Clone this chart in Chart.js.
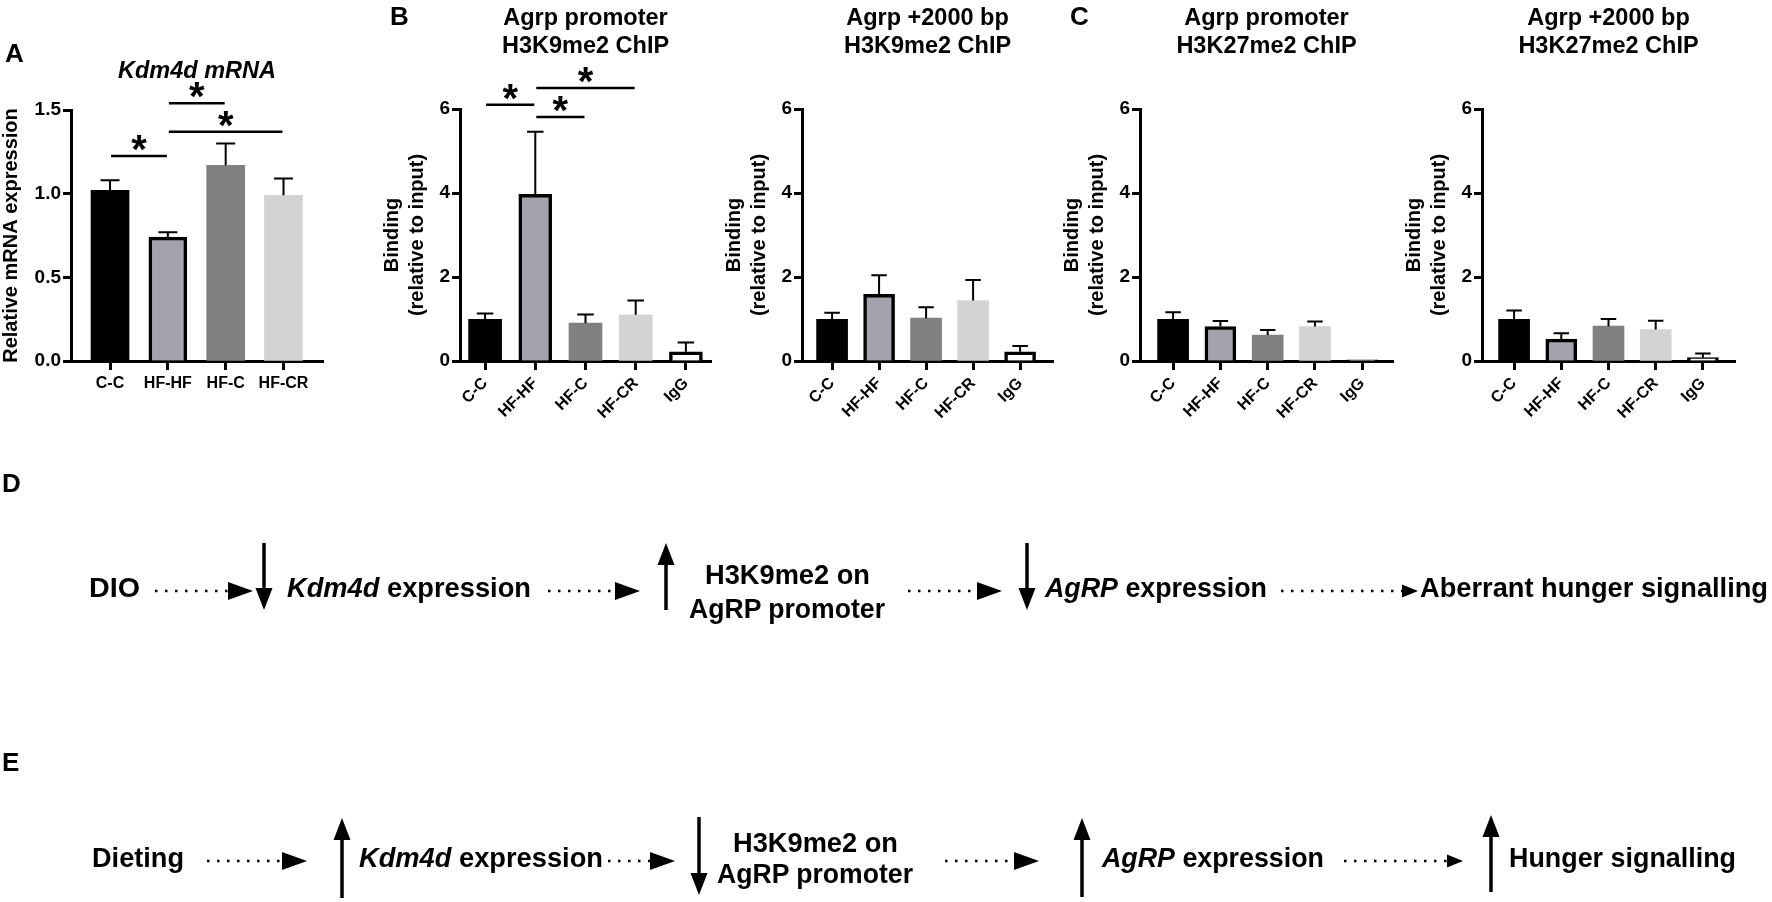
<!DOCTYPE html>
<html>
<head>
<meta charset="utf-8">
<title>Kdm4d and Agrp ChIP</title>
<script src="https://cdn.jsdelivr.net/npm/chart.js@4.4.1/dist/chart.umd.min.js"></script>
<style>
  body { margin: 0; background: #fff; }
  #page { position: relative; width: 1772px; height: 902px; overflow: hidden; background: #fff; }
  #page canvas { position: absolute; top: 0; }
  #diagram { position: absolute; left: 0; top: 0; }
</style>
</head>
<body>
<div id="page">
  <canvas id="chartA" width="338" height="461" style="left:0px"></canvas>
  <canvas id="chartB1" width="356" height="461" style="left:370px"></canvas>
  <canvas id="chartB2" width="356" height="461" style="left:712px"></canvas>
  <canvas id="chartC1" width="358" height="461" style="left:1050px"></canvas>
  <canvas id="chartC2" width="358" height="461" style="left:1392px"></canvas>
  <svg id="diagram" width="1772" height="902"></svg>
</div>
<script>
Chart.defaults.font.family = "'Liberation Sans', Arial, sans-serif";
Chart.defaults.color = "#000";

// panel A: Kdm4d mRNA
const groupsA = ["C-C", "HF-HF", "HF-C", "HF-CR"];
const kdm4dMean = [1.02, 0.74, 1.17, 0.99];
const kdm4dSem = [0.06, 0.03, 0.13, 0.10];
const ticksA = [0, 0.5, 1.0, 1.5];

// panels B and C: ChIP binding relative to input
const groupsChip = ["C-C", "HF-HF", "HF-C", "HF-CR", "IgG"];
const k9PromMean = [0.99, 3.97, 0.90, 1.10, 0.22];
const k9PromSem = [0.14, 1.49, 0.21, 0.34, 0.22];
const k9PlusMean = [0.99, 1.59, 1.02, 1.44, 0.22];
const k9PlusSem = [0.16, 0.45, 0.26, 0.49, 0.14];
const k27PromMean = [0.99, 0.82, 0.62, 0.82, 0.03];
const k27PromSem = [0.17, 0.13, 0.12, 0.12, 0];
const k27PlusMean = [0.99, 0.52, 0.83, 0.75, 0.08];
const k27PlusSem = [0.21, 0.14, 0.17, 0.21, 0.10];
const ticksChip = [0, 2, 4, 6];

// significance brackets: [group, group, height in axis units]
const sigA = [[0, 1, 1.225], [1, 2, 1.54], [1, 3, 1.37]];
const sigK9Prom = [[0, 1, 6.1], [1, 2, 5.81], [1, 3, 6.5]];

const fills = ["#000000", "#a3a3ab", "#808080", "#d3d3d3", "#ffffff"];
const edges = ["#000000", "#000000", "#808080", "#d3d3d3", "#000000"];
const edgeW = [0, 3.5, 0, 0, 3.5];
const FONT = "'Liberation Sans', Arial, sans-serif";

const extras = {};

// error bars, brackets, titles
const annotate = {
  id: "annotate",
  afterDatasetsDraw(chart) {
    const p = extras[chart.canvas.id];
    const ctx = chart.ctx;
    const xs = chart.scales.x, ys = chart.scales.y, area = chart.chartArea;
    const bars = chart.getDatasetMeta(0).data;
    ctx.save();
    ctx.strokeStyle = "#000";
    ctx.fillStyle = "#000";
    ctx.lineWidth = 2;
    p.sem.forEach((s, i) => {
      if (!s) return;
      const b = bars[i];
      const top = ys.getPixelForValue(p.mean[i] + s);
      const cap = b.width / 4;
      ctx.beginPath();
      ctx.moveTo(b.x, b.y);
      ctx.lineTo(b.x, top);
      ctx.moveTo(b.x - cap, top);
      ctx.lineTo(b.x + cap, top);
      ctx.stroke();
    });

    ctx.lineWidth = 2.5;
    ctx.textAlign = "center";
    ctx.textBaseline = "alphabetic";
    ctx.font = "bold 40px " + FONT;
    (p.sig || []).forEach((s) => {
      const x1 = xs.getPixelForValue(s[0]) + 1;
      const x2 = xs.getPixelForValue(s[1]) - 1;
      const yy = ys.getPixelForValue(s[2]);
      ctx.beginPath();
      ctx.moveTo(x1, yy);
      ctx.lineTo(x2, yy);
      ctx.stroke();
      ctx.fillText("*", (x1 + x2) / 2, yy + 7);
    });

    const cx = (area.left + area.right) / 2;
    ctx.font = (p.italic ? "italic " : "") + "bold " + p.titleSize + "px " + FONT;
    p.title.forEach((t, k) => ctx.fillText(t, cx, p.titleY[k]));

    ctx.font = "bold 20px " + FONT;
    ctx.textBaseline = "middle";
    p.yTitle.forEach((t, k) => {
      ctx.save();
      ctx.translate(area.left + p.yTitleX[k], (area.top + area.bottom) / 2);
      ctx.rotate(-Math.PI / 2);
      ctx.fillText(t, 0, 0);
      ctx.restore();
    });
    ctx.restore();
  },
};

function makeChart(id, cats, mean, sem, yTicks, look) {
  extras[id] = Object.assign({ mean: mean, sem: sem }, look.notes);
  const n = cats.length;
  const tickGrid = (len) => ({
    offset: false,
    drawOnChartArea: false,
    drawTicks: true,
    tickLength: len,
    tickWidth: 3,
    tickColor: "#000",
  });
  return new Chart(document.getElementById(id), {
    type: "bar",
    data: {
      datasets: [
        {
          data: mean.map((v, i) => ({ x: i, y: v })),
          backgroundColor: fills.slice(0, n),
          borderColor: edges.slice(0, n),
          borderWidth: edgeW.slice(0, n),
          borderSkipped: "start",
          barThickness: look.barW,
        },
      ],
    },
    options: {
      responsive: false,
      animation: false,
      layout: { padding: { top: look.top, right: 15, left: 0, bottom: 0 } },
      plugins: { legend: { display: false }, tooltip: { enabled: false } },
      scales: {
        x: {
          type: "linear",
          min: look.xMin,
          max: look.xMax,
          offset: false,
          afterBuildTicks: (s) => {
            s.ticks = cats.map((c, i) => ({ value: i }));
          },
          afterFit: (s) => {
            s.height = 100;
          },
          ticks: {
            callback: (v) => cats[v],
            autoSkip: false,
            maxRotation: look.rot,
            minRotation: look.rot,
            font: { size: 16, weight: "bold" },
            padding: 4,
          },
          grid: tickGrid(9),
          border: { display: true, color: "#000", width: 3 },
        },
        y: {
          min: 0,
          max: yTicks[yTicks.length - 1],
          afterBuildTicks: (s) => {
            s.ticks = yTicks.map((v) => ({ value: v }));
          },
          afterFit: (s) => {
            s.width = look.yW;
          },
          ticks: {
            callback: look.fmt,
            font: { size: 19, weight: "bold" },
            padding: 2,
          },
          grid: tickGrid(8),
          border: { display: true, color: "#000", width: 3 },
        },
      },
    },
    plugins: [annotate],
  });
}

const chipY = ["Binding", "(relative to input)"];
const chipYX = [-68, -43];
const chipFmt = (v) => String(v);

makeChart("chartA", groupsA, kdm4dMean, kdm4dSem, ticksA, {
  xMin: -0.675, xMax: 3.683, top: 110, yW: 71, barW: 38, rot: 0,
  fmt: (v) => v.toFixed(1),
  notes: {
    sig: sigA, title: ["Kdm4d mRNA"], italic: true, titleSize: 23.5, titleY: [78],
    yTitle: ["Relative mRNA expression"], yTitleX: [-60],
  },
});
makeChart("chartB1", groupsChip, k9PromMean, k9PromSem, ticksChip, {
  xMin: -0.5, xMax: 4.5, top: 109, yW: 90, barW: 33, rot: 45, fmt: chipFmt,
  notes: {
    sig: sigK9Prom, title: ["Agrp promoter", "H3K9me2 ChIP"], titleSize: 23.5, titleY: [25, 53],
    yTitle: chipY, yTitleX: chipYX,
  },
});
makeChart("chartB2", groupsChip, k9PlusMean, k9PlusSem, ticksChip, {
  xMin: -0.64, xMax: 4.7, top: 109, yW: 90, barW: 31, rot: 45, fmt: chipFmt,
  notes: {
    title: ["Agrp +2000 bp", "H3K9me2 ChIP"], titleSize: 23.5, titleY: [25, 53],
    yTitle: chipY, yTitleX: chipYX,
  },
});
makeChart("chartC1", groupsChip, k27PromMean, k27PromSem, ticksChip, {
  xMin: -0.7, xMax: 4.65, top: 109, yW: 90, barW: 31, rot: 45, fmt: chipFmt,
  notes: {
    title: ["Agrp promoter", "H3K27me2 ChIP"], titleSize: 23.5, titleY: [25, 53],
    yTitle: chipY, yTitleX: chipYX,
  },
});
makeChart("chartC2", groupsChip, k27PlusMean, k27PlusSem, ticksChip, {
  xMin: -0.68, xMax: 4.68, top: 109, yW: 90, barW: 31, rot: 45, fmt: chipFmt,
  notes: {
    title: ["Agrp +2000 bp", "H3K27me2 ChIP"], titleSize: 23.5, titleY: [25, 53],
    yTitle: chipY, yTitleX: chipYX,
  },
});

// schematic panels D and E
const SF = 'font-family="Liberation Sans, Arial, sans-serif" font-weight="bold"';
function label(x, y, s) {
  return `<text x="${x}" y="${y}" ${SF} font-size="26">${s}</text>`;
}
function words(x, y, len, s) {
  return `<text x="${x}" y="${y}" ${SF} font-size="27" textLength="${len}" lengthAdjust="spacingAndGlyphs" style="white-space:pre">${s}</text>`;
}
function dots(x1, x2, y, hl, hh) {
  return `<line x1="${x1}" y1="${y}" x2="${x2 - hl}" y2="${y}" stroke="#000" stroke-width="2.5" stroke-dasharray="2.5 7.5"/>` +
    `<polygon points="${x2 - hl},${y - hh} ${x2},${y} ${x2 - hl},${y + hh}" fill="#000"/>`;
}
function vArrow(x, tail, tip) {
  const base = tip > tail ? tip - 22 : tip + 22;
  return `<line x1="${x}" y1="${tail}" x2="${x}" y2="${base}" stroke="#000" stroke-width="3.5"/>` +
    `<polygon points="${x - 8.5},${base} ${x},${tip} ${x + 8.5},${base}" fill="#000"/>`;
}
const it = (s) => `<tspan font-style="italic">${s}</tspan>`;

let svg = "";
svg += label(5, 62, "A") + label(390, 25, "B") + label(1070, 25, "C");
svg += label(2, 492, "D") + label(2, 771, "E");

// D
svg += words(89, 597, 51, "DIO");
svg += dots(155, 253, 591, 25, 9);
svg += vArrow(264, 543, 610);
svg += words(287, 597, 244, it("Kdm4d") + " expression");
svg += dots(548, 640, 591, 25, 9);
svg += vArrow(666, 610, 543);
svg += words(705, 584, 165, "H3K9me2 on");
svg += words(689, 618, 196, "AgRP promoter");
svg += dots(908, 1002, 591, 25, 9);
svg += vArrow(1027, 543, 610);
svg += words(1045, 597, 222, it("AgRP") + " expression");
svg += dots(1281, 1418, 591, 16, 6.5);
svg += words(1420, 597, 348, "Aberrant hunger signalling");

// E
svg += words(92, 867, 92, "Dieting");
svg += dots(207, 307, 861, 25, 9);
svg += vArrow(342, 898, 818);
svg += words(359, 867, 244, it("Kdm4d") + " expression");
svg += dots(608, 675, 861, 25, 9);
svg += vArrow(699, 817, 895);
svg += words(733, 852, 165, "H3K9me2 on");
svg += words(717, 883, 196, "AgRP promoter");
svg += dots(945, 1039, 861, 25, 9);
svg += vArrow(1082, 897, 818);
svg += words(1102, 867, 222, it("AgRP") + " expression");
svg += dots(1344, 1463, 861, 16, 6.5);
svg += vArrow(1491, 892, 815);
svg += words(1509, 867, 227, "Hunger signalling");

document.getElementById("diagram").innerHTML = svg;
</script>
</body>
</html>
